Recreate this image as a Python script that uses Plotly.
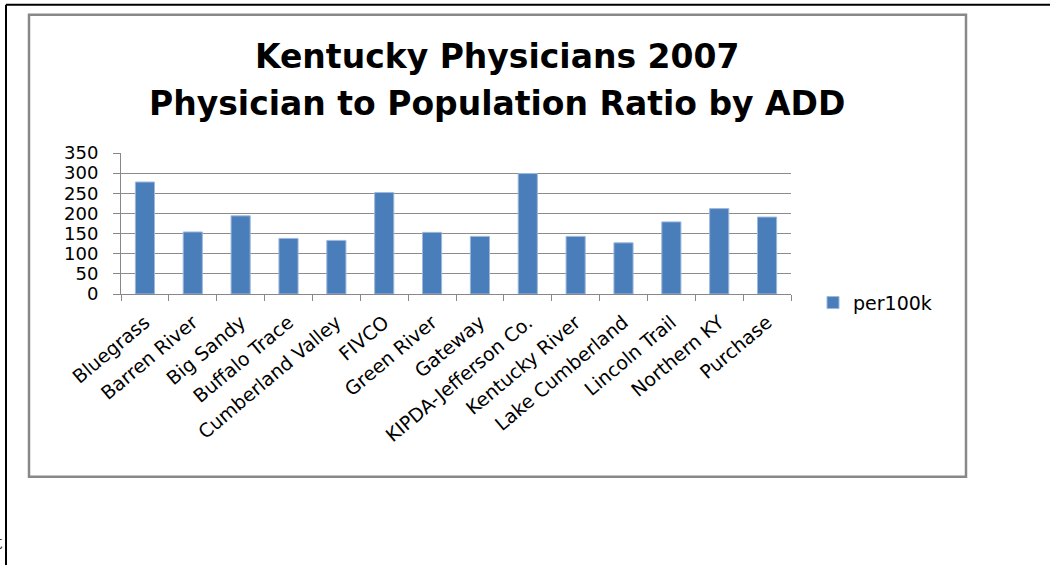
import plotly.graph_objects as go

categories = ["Bluegrass", "Barren River", "Big Sandy", "Buffalo Trace", "Cumberland Valley",
              "FIVCO", "Green River", "Gateway", "KIPDA-Jefferson Co.", "Kentucky River",
              "Lake Cumberland", "Lincoln Trail", "Northern KY", "Purchase"]
per100k = [278, 154, 194, 138, 133, 252, 153, 143, 299, 143, 127, 179, 212, 191]
y_ticks = [0, 50, 100, 150, 200, 250, 300, 350]

W, H = 1050, 565
L, R = 121, 791
T, B = 153.3, 294.3

def px(x):
    return (x - L) / (R - L)

def py(y):
    return (B - y) / (B - T)

fig = go.Figure()
fig.add_trace(go.Bar(
    x=categories, y=per100k, name="per100k",
    marker=dict(color="#4A7EBB", line=dict(color="#9DB9DC", width=1)),
))

font = "DejaVu Sans, Verdana, sans-serif"
fig.update_layout(
    width=W, height=H,
    margin=dict(l=L, r=W - R, t=T, b=H - B, pad=0),
    paper_bgcolor="white", plot_bgcolor="white",
    bargap=0.6,
    showlegend=True,
    legend=dict(x=px(813), y=py(303), xanchor="left", yanchor="middle",
                font=dict(family=font, size=19, color="#000"),
                bgcolor="rgba(0,0,0,0)", itemwidth=30),
    font=dict(family=font, color="#000"),
)
fig.update_xaxes(
    type="category", tickangle=-40, tickson="boundaries", ticks="outside",
    ticklen=6, tickcolor="#888", showline=True, linecolor="#888", linewidth=1,
    tickfont=dict(family=font, size=19, color="#000"), showgrid=False,
    ticklabelstandoff=9,
)
fig.update_yaxes(
    range=[0, 350], tickvals=y_ticks, ticks="outside", ticklen=7, tickcolor="#888",
    showline=True, linecolor="#888", linewidth=1, showgrid=True, gridcolor="#8c8c8c",
    gridwidth=1, tickfont=dict(family=font, size=18, color="#000"), zeroline=False,
    ticklabelstandoff=11,
)

# Title (two lines)
fig.add_annotation(text="<b>Kentucky Physicians 2007</b>", xref="paper", yref="paper",
                   x=px(497), y=py(57), xanchor="center", yanchor="middle", showarrow=False,
                   font=dict(family=font, size=33, color="#000"))
fig.add_annotation(text="<b>Physician to Population Ratio by ADD</b>", xref="paper", yref="paper",
                   x=px(497), y=py(104), xanchor="center", yanchor="middle", showarrow=False,
                   font=dict(family=font, size=33, color="#000"))

# Inner chart border (gray)
fig.add_shape(type="rect", xref="paper", yref="paper",
              x0=px(29), x1=px(966), y0=py(15), y1=py(477),
              line=dict(color="#888", width=2.5), layer="below")
# Outer black frame lines
fig.add_shape(type="line", xref="paper", yref="paper",
              x0=px(6), x1=px(1052), y0=py(5), y1=py(5), line=dict(color="#000", width=2))
fig.add_shape(type="line", xref="paper", yref="paper",
              x0=px(6), x1=px(6), y0=py(5), y1=py(567), line=dict(color="#000", width=2))
# stray glyph at bottom-left
fig.add_annotation(text="t", xref="paper", yref="paper", x=px(5), y=py(543),
                   xanchor="right", yanchor="middle", showarrow=False,
                   font=dict(family="DejaVu Serif, serif", size=18, color="#333"))

fig.write_html("out.html")
